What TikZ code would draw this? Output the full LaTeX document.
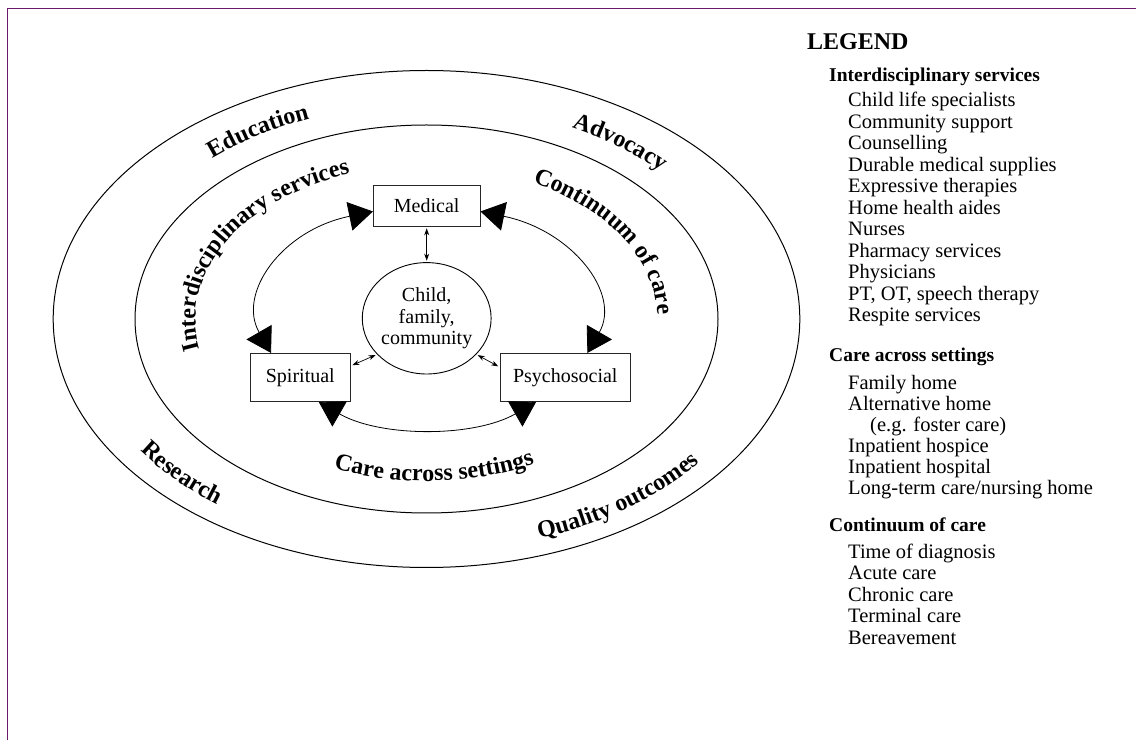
\documentclass[tikz,border=0pt]{standalone}
\usepackage{fontspec}
\setmainfont{Liberation Serif}
\usepackage{tikz}
\usetikzlibrary{arrows.meta,positioning,shapes.geometric,decorations.text}
\definecolor{edgepurple}{HTML}{6B1A6B}
\newcommand\curvefont{\bfseries\fontsize{24}{24}\selectfont}
\tikzset{
  ring/.style={draw=black,line width=1pt},
  carebox/.style={
    draw=black!85,fill=white,line width=.8pt,
    minimum height=48.3pt,inner sep=0pt,
    font=\fontsize{20}{21}\selectfont
  },
  hub/.style={
    ellipse,draw=black,line width=.9pt,
    minimum width=128pt,minimum height=111.4pt,inner sep=0pt,
    align=center,font=\fontsize{20}{21.5}\selectfont
  },
  bigarrow/.style={{Triangle[length=24pt,width=29pt]}-{Triangle[length=24pt,width=29pt]},draw=black,line width=.8pt},
  smallarrow/.style={{Stealth[length=7pt,width=5pt]}-{Stealth[length=7pt,width=5pt]},draw=black,line width=.7pt,
    shorten <=1.5pt,shorten >=1.5pt},
  curvetext/.style={decorate,decoration={text along path,text align=center,text={|\curvefont|#1}}},
  legtitle/.style={anchor=base west,inner sep=0pt,font=\bfseries\fontsize{24}{24}\selectfont},
  leghead/.style={anchor=base west,inner sep=0pt,font=\bfseries\fontsize{19.5}{21.5}\selectfont},
  legitem/.style={anchor=base west,inner sep=0pt,font=\fontsize{20.5}{21.5}\selectfont}
}

\begin{document}
\begin{tikzpicture}[x=1pt,y=1pt]
\useasboundingbox (0,0) rectangle (1136,740);
\draw[edgepurple,line width=1.5pt] (7.5,0) |- (1136,731.7);

% rings
\coordinate (ctr) at (426.5,421);
\draw[ring] (ctr) ellipse [x radius=373.3,y radius=248.5];
\draw[ring] (ctr) ellipse [x radius=291.5,y radius=194];

% centre and the three care domains
\node[hub] (family) at (426.7,421.7) {Child,\\family,\\community};
\node[carebox,minimum width=106.7pt,minimum height=41.3pt,above=35.3pt of family] (medical) {Medical};
\node[carebox,minimum width=100.7pt] (spiritual) at (300.3,362.5) {Spiritual};
\node[carebox,minimum width=130.7pt] (psycho) at (565.3,362.5) {Psychosocial};

\draw[smallarrow] (medical.south) -- (family.north);
\draw[smallarrow] (spiritual.13) -- (family.216);
\draw[smallarrow] (psycho.171) -- (family.324);

\draw[bigarrow] (medical.186) .. controls +(-92,-19) and +(-34,59) .. (spiritual.140);
\draw[bigarrow] (medical.354) .. controls +(92,-19) and +(34,59) .. (psycho.48);
\draw[bigarrow] (spiritual.307) .. controls +(62,-35.5) and +(-62,-35.5) .. (psycho.220);

% ring labels
\begin{scope}[shift={(ctr)}]
\path[curvetext=Education] (150:322 and 215) arc[start angle=150,end angle=96,x radius=322,y radius=215];
\path[curvetext=Advocacy] (78:322 and 215) arc[start angle=78,end angle=25,x radius=322,y radius=215];
\path[curvetext=Research] (200:348 and 232) arc[start angle=200,end angle=245,x radius=348,y radius=232];
\path[curvetext=Quality outcomes] (280:348 and 232) arc[start angle=280,end angle=333,x radius=348,y radius=232];
\path[curvetext=Interdisciplinary services] (207:231 and 154) arc[start angle=207,end angle=98,x radius=231,y radius=154];
\path[curvetext=Continuum of care] (70:231 and 154) arc[start angle=70,end angle=-9,x radius=231,y radius=154];
\path[curvetext=Care across settings] (245:243 and 162) arc[start angle=245,end angle=299,x radius=243,y radius=162];
\end{scope}

% legend
\node[legtitle] (legend) at (807,690) {LEGEND};
\node[leghead] (ishead) at (829,658) {Interdisciplinary services};
\foreach \t [count=\i from 0] in {Child life specialists,Community support,Counselling,
  Durable medical supplies,Expressive therapies,Home health aides,Nurses,
  Pharmacy services,Physicians,{PT, OT, speech therapy},Respite services}
  \node[legitem] (is\i) at (848,633-21.5*\i) {\t};
\node[leghead] (cashead) at (829,378) {Care across settings};
\foreach \t [count=\i from 0] in {Family home,Alternative home,{\hspace*{22pt}(e.g. foster care)},
  Inpatient hospice,Inpatient hospital,Long-term care/nursing home}
  \node[legitem] (cas\i) at (848,350-21*\i) {\t};
\node[leghead] (cochead) at (829,208) {Continuum of care};
\foreach \t [count=\i from 0] in {Time of diagnosis,Acute care,Chronic care,Terminal care,Bereavement}
  \node[legitem] (coc\i) at (848,182-21.5*\i) {\t};
\end{tikzpicture}
\end{document}
